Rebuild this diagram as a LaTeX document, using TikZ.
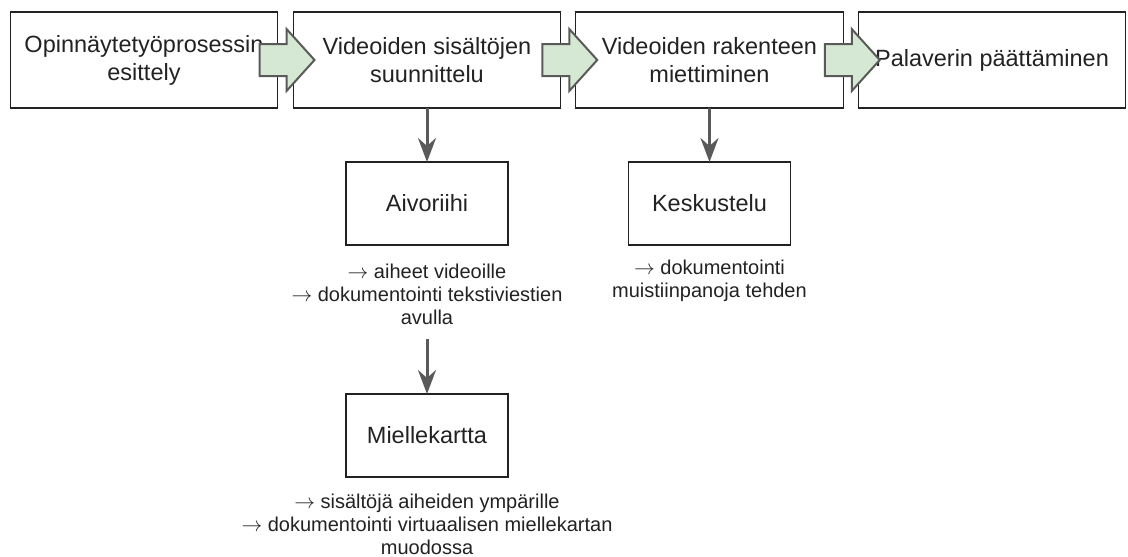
\documentclass[tikz,border=0pt]{standalone}
\usepackage{fontspec}
\setmainfont{Liberation Sans}
\usetikzlibrary{positioning,calc,arrows.meta}
\definecolor{boxline}{HTML}{222222}
\definecolor{greenfill}{HTML}{D5E8D4}
\definecolor{arrowline}{HTML}{5A5A5A}
\definecolor{textgray}{HTML}{222222}
\newcommand\nuoli{{\fontsize{22}{23}\selectfont$\rightarrow$}}

\begin{document}
\begin{tikzpicture}[x=1pt,y=-1pt,text=textgray]

    \tikzset{stepbox/.style={draw=boxline,line width=1.2pt,minimum width=267.5pt,minimum height=96pt,inner sep=0pt,outer sep=0pt,align=center,font=\fontsize{23.5}{28}\selectfont}}
    \tikzset{smallbox/.style={stepbox,minimum width=162pt,minimum height=83pt}}
    \tikzset{note/.style={inner sep=0pt,align=center,font=\fontsize{20}{23}\selectfont}}
    \tikzset{fatarrow/.style={draw=arrowline,fill=greenfill,line width=2pt,line join=miter}}

    \useasboundingbox (0,0) rectangle (1128,557);

    \node[stepbox] (intro) at (144,60) {Opinnäytetyöprosessin\\esittely};
    \node[stepbox,right=15.5pt of intro] (plan) {Videoiden sisältöjen\\suunnittelu};
    \node[stepbox,right=15pt of plan] (struct) {Videoiden rakenteen\\miettiminen};
    \node[stepbox,right=15pt of struct] (close) {Palaverin päättäminen};

    \node[smallbox,below=54pt of plan] (brain) {Aivoriihi};
    \node[smallbox,below=54pt of struct] (talk) {Keskustelu};

    \node[note,below=19pt of brain] (braintext) {\nuoli{} aiheet videoille\\\nuoli{} dokumentointi tekstiviestien\\avulla};
    \node[note,below=14.5pt of talk] (talktext) {\nuoli{} dokumentointi\\muistiinpanoja tehden};

    \node[smallbox,below=149pt of brain] (mindmap) {Miellekartta};
    \node[note,below=17pt of mindmap] (mindtext) {\nuoli{} sisältöjä aiheiden ympärille\\\nuoli{} dokumentointi virtuaalisen miellekartan\\muodossa};

    % vihreat nuolet
    \foreach \a/\b in {intro/plan,plan/struct,struct/close}
        \draw[fatarrow] ($(\a.east)!0.5!(\b.west)$) ++(-26,-16) -- ++(27,0) -- ++(0,-15)
            -- ++(28,31) -- ++(-28,31) -- ++(0,-15) -- ++(-27,0) -- cycle;

    \begin{scope}[every path/.style={draw=arrowline,line width=3pt,-{Stealth[length=24pt,width=18pt,inset=8pt]}}]
        \draw (plan) -- (brain);
        \draw (struct) -- (talk);
        \draw[shorten <=14pt] (braintext) -- (mindmap);
    \end{scope}

\end{tikzpicture}
\end{document}
